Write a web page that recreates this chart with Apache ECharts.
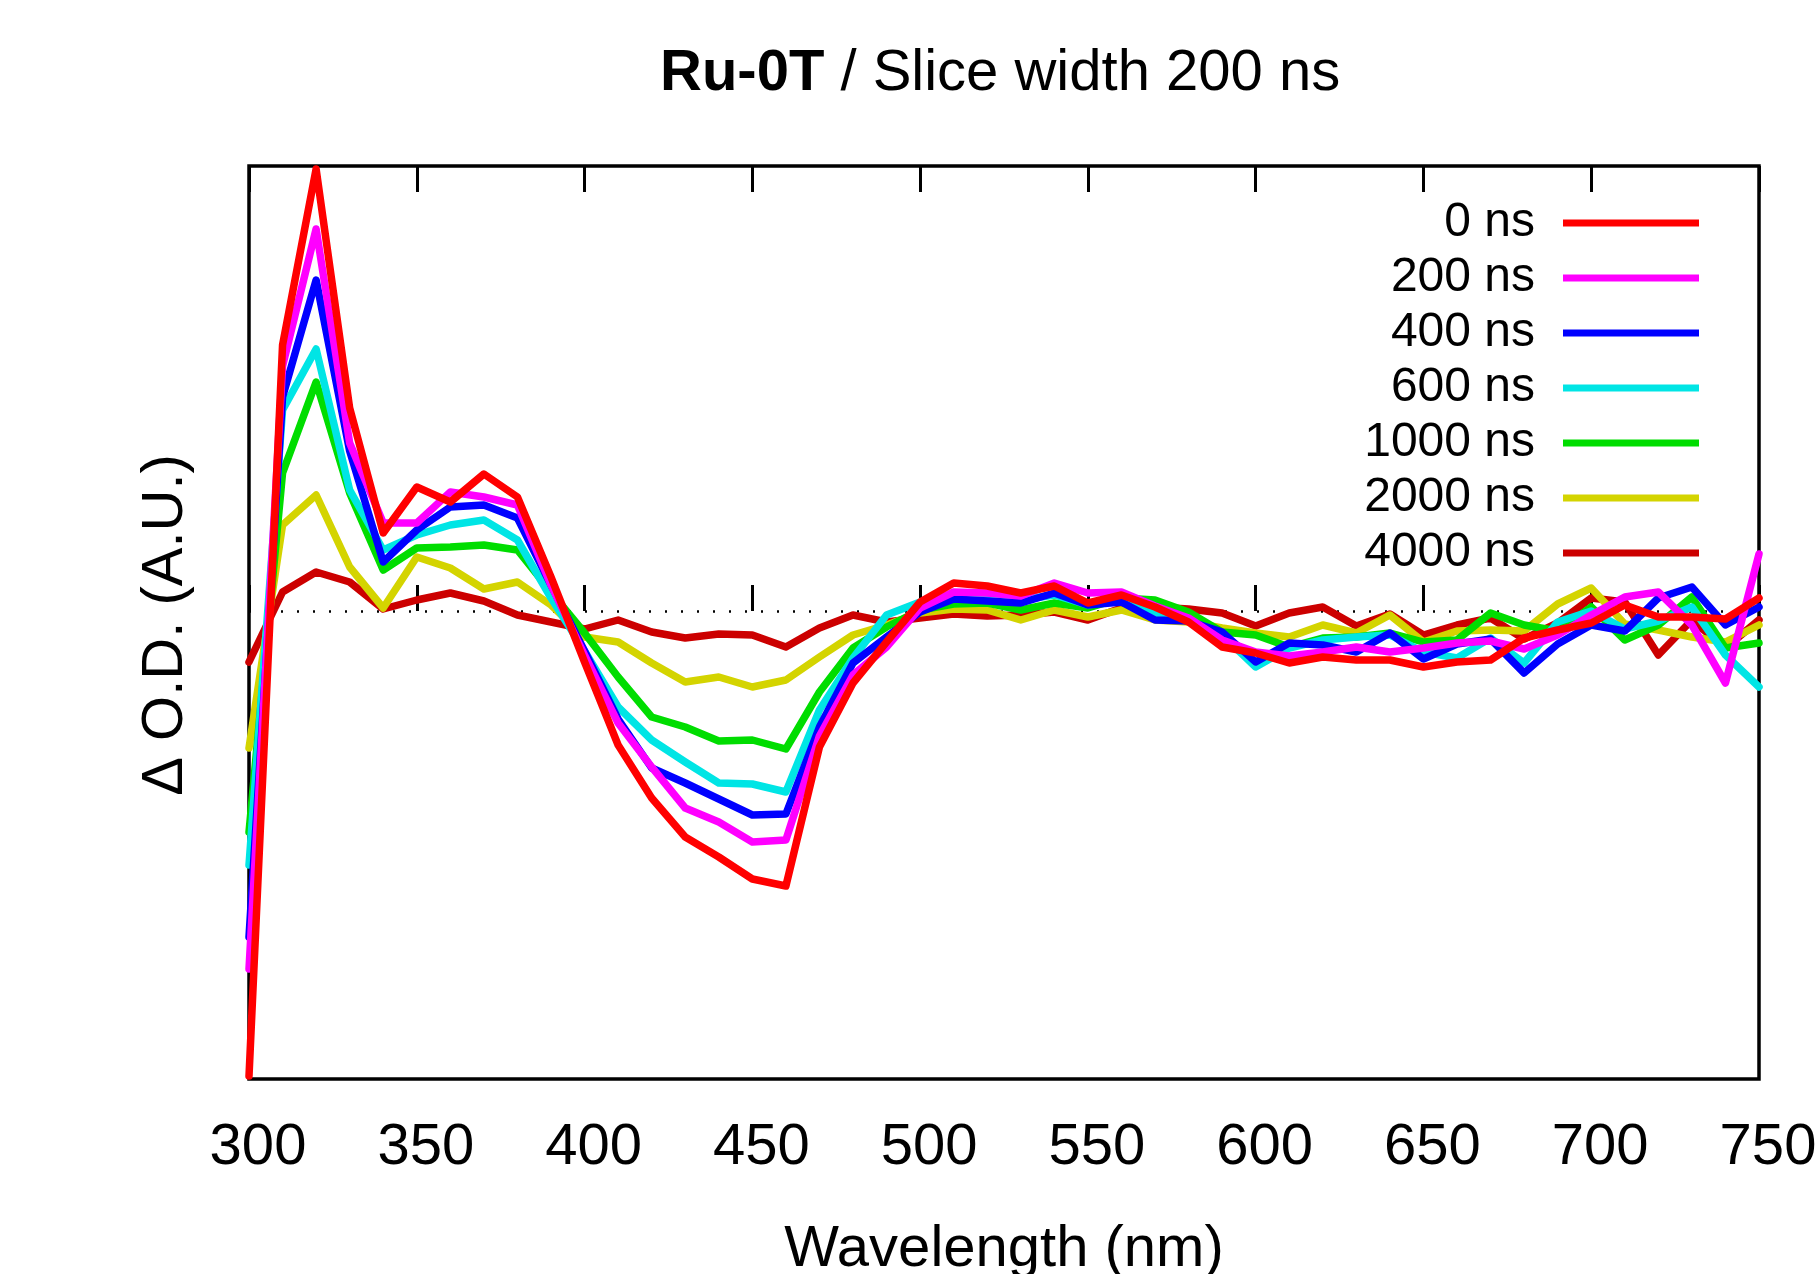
<!DOCTYPE html>
<html lang="en">
<head>
    <meta charset="UTF-8">
    <title>Ru-0T slices</title>
    <script src="https://cdn.jsdelivr.net/npm/echarts@6/dist/echarts.min.js"></script>
    <style>
        html, body { margin: 0; padding: 0; background: #fff; }
    </style>
</head>
<body>
    <div id="main" style="width: 1816px; height: 1274px;"></div>
    <script type="text/javascript">
        // wavelength grid (nm)
        var wavelengths = [300,310,320,330,340,350,360,370,380,390,400,410,420,430,440,450,460,470,480,490,
                           500,510,520,530,540,550,560,570,580,590,600,610,620,630,640,650,660,670,680,690,
                           700,710,720,730,740,750];
        var xTicks = [300,350,400,450,500,550,600,650,700,750];

        // delta OD per time slice (arbitrary units)
        var od0 = [-4.65,2.66,4.42,2.03,0.78,1.24,1.09,1.37,1.14,0.34,-0.51,-1.34,-1.87,-2.26,-2.46,-2.68,-2.75,-1.36,-0.72,-0.31,
                   0.09,0.28,0.25,0.18,0.25,0.08,0.16,0.04,-0.11,-0.36,-0.42,-0.52,-0.46,-0.49,-0.49,-0.56,-0.51,-0.49,-0.27,-0.19,
                   -0.12,0.06,-0.06,-0.06,-0.08,0.13];
        var od200 = [-3.58,2.45,3.82,1.68,0.88,0.88,1.19,1.14,1.06,0.26,-0.44,-1.12,-1.56,-1.97,-2.11,-2.31,-2.29,-1.25,-0.64,-0.36,
                     0.03,0.19,0.18,0.15,0.28,0.18,0.19,0.05,-0.07,-0.29,-0.41,-0.45,-0.41,-0.36,-0.41,-0.37,-0.32,-0.30,-0.38,-0.24,
                     -0.04,0.14,0.19,-0.14,-0.72,0.57];
        var od400 = [-3.26,2.14,3.31,1.60,0.49,0.81,1.04,1.06,0.93,0.26,-0.40,-1.08,-1.57,-1.72,-1.88,-2.04,-2.03,-1.16,-0.52,-0.26,
                     -0.01,0.12,0.10,0.08,0.18,0.06,0.09,-0.09,-0.10,-0.21,-0.51,-0.32,-0.34,-0.41,-0.22,-0.48,-0.33,-0.28,-0.62,-0.33,
                     -0.14,-0.20,0.13,0.24,-0.14,0.04];
        var od600 = [-2.54,2.01,2.62,1.21,0.61,0.76,0.86,0.91,0.71,0.13,-0.40,-0.96,-1.29,-1.51,-1.72,-1.73,-1.81,-0.99,-0.47,-0.04,
                     0.09,0.14,0.14,0.11,0.16,0.06,0.11,-0.02,-0.09,-0.24,-0.56,-0.37,-0.29,-0.26,-0.24,-0.41,-0.47,-0.27,-0.52,-0.11,
                     0.00,-0.18,-0.10,0.04,-0.44,-0.76];
        var od1000 = [-2.21,1.38,2.29,1.18,0.41,0.63,0.64,0.66,0.61,0.19,-0.22,-0.66,-1.06,-1.16,-1.30,-1.29,-1.38,-0.81,-0.37,-0.16,
                      0.01,0.07,0.08,0.01,0.08,0.03,0.13,0.11,-0.01,-0.21,-0.24,-0.36,-0.27,-0.26,-0.22,-0.31,-0.29,-0.02,-0.14,-0.20,
                      0.04,-0.29,-0.14,0.14,-0.37,-0.32];
        var od2000 = [-1.37,0.86,1.16,0.44,0.03,0.54,0.43,0.22,0.29,0.06,-0.26,-0.31,-0.52,-0.71,-0.66,-0.76,-0.69,-0.46,-0.24,-0.14,
                      -0.02,0.02,0.01,-0.09,0.01,-0.06,0.01,-0.09,-0.11,-0.17,-0.22,-0.26,-0.14,-0.22,-0.04,-0.31,-0.20,-0.19,-0.20,0.07,
                      0.23,-0.13,-0.19,-0.26,-0.31,-0.14];
        var od4000 = [-0.51,0.19,0.39,0.29,0.02,0.11,0.18,0.10,-0.04,-0.11,-0.18,-0.09,-0.21,-0.27,-0.23,-0.24,-0.36,-0.17,-0.04,-0.11,
                      -0.07,-0.03,-0.05,-0.04,-0.01,-0.09,0.03,0.04,0.02,-0.02,-0.15,-0.02,0.04,-0.15,-0.03,-0.24,-0.14,-0.07,-0.28,-0.12,
                      0.13,0.09,-0.44,-0.09,-0.37,-0.09];

        var sliceNames = ['0 ns','200 ns','400 ns','600 ns','1000 ns','2000 ns','4000 ns'];
        var sliceData = [od0, od200, od400, od600, od1000, od2000, od4000];
        var sliceColors = ['#ff0000','#ff00ff','#0000ff','#00e5e5','#00dd00','#d4d400','#cc0000'];

        var font = 'Liberation Sans';
        var chart = echarts.init(document.getElementById('main'));

        function pairs(ys) {
            var out = [];
            for (var i = 0; i < wavelengths.length; i++) {
                out.push([wavelengths[i], ys[i]]);
            }
            return out;
        }

        // gnuplot draws the last slice first, so 0 ns ends on top
        var series = [];
        for (var k = sliceNames.length - 1; k >= 0; k--) {
            series.push({
                name: sliceNames[k],
                type: 'line',
                data: pairs(sliceData[k]),
                showSymbol: false,
                symbol: 'none',
                z: 10,
                color: sliceColors[k],
                lineStyle: { width: 7.5, color: sliceColors[k], join: 'round', cap: 'round' }
            });
        }
        // dotted zero line
        series[0].markLine = {
            silent: true,
            symbol: 'none',
            label: { show: false },
            lineStyle: { color: '#000', width: 2.5, type: [2, 14] },
            data: [{ yAxis: 0 }]
        };

        var option = {
            animation: false,
            backgroundColor: '#fff',
            title: {
                left: 660,
                top: 45,
                padding: 0,
                text: '{b|Ru-0T}{r| / Slice width 200 ns}',
                textStyle: {
                    fontFamily: font,
                    fontSize: 58,
                    fontWeight: 'normal',
                    color: '#000',
                    rich: {
                        b: { fontFamily: font, fontSize: 58, fontWeight: 'bold', color: '#000' },
                        r: { fontFamily: font, fontSize: 58, fontWeight: 'normal', color: '#000' }
                    }
                }
            },
            legend: {
                data: sliceNames,
                orient: 'vertical',
                align: 'right',
                right: 117,
                top: 199,
                padding: 0,
                itemGap: 7,
                itemWidth: 136,
                itemHeight: 7,
                icon: 'rect',
                selectedMode: false,
                textStyle: { fontFamily: font, fontSize: 48, color: '#000', padding: [0, 23, 0, 0] }
            },
            grid: {
                left: 249, right: 57, top: 166, bottom: 195,
                show: true, borderColor: '#000', borderWidth: 3.5,
                containLabel: false,
                outerBoundsMode: 'none'
            },
            xAxis: [{
                type: 'value',
                min: 300, max: 750, interval: 50,
                name: 'Wavelength (nm)',
                nameLocation: 'middle',
                nameGap: 142,
                nameTextStyle: { fontFamily: font, fontSize: 58, color: '#000' },
                axisLine: { show: false },
                axisTick: { show: true, inside: true, length: 26, lineStyle: { color: '#000', width: 3 } },
                axisLabel: {
                    fontFamily: font, fontSize: 58, color: '#000', margin: 40,
                    padding: [0, 0, 0, 18],
                    customValues: xTicks
                },
                splitLine: { show: false }
            }, {
                type: 'value',
                position: 'top',
                min: 300, max: 750, interval: 50,
                axisLine: { show: false },
                axisTick: { show: true, inside: true, length: 26, lineStyle: { color: '#000', width: 3 } },
                axisLabel: { show: false },
                splitLine: { show: false }
            }],
            yAxis: {
                type: 'value',
                min: -4.68, max: 4.45,
                axisLine: { show: false },
                axisTick: { show: false },
                axisLabel: { show: false },
                splitLine: { show: false }
            },
            graphic: [{
                type: 'text',
                x: 166,
                y: 625,
                rotation: Math.PI / 2,
                style: {
                    text: 'Δ O.D. (A.U.)',
                    fontFamily: font,
                    fontSize: 58,
                    fill: '#000',
                    align: 'center',
                    verticalAlign: 'middle'
                }
            }],
            series: series
        };
        chart.setOption(option);
    </script>
</body>
</html>
